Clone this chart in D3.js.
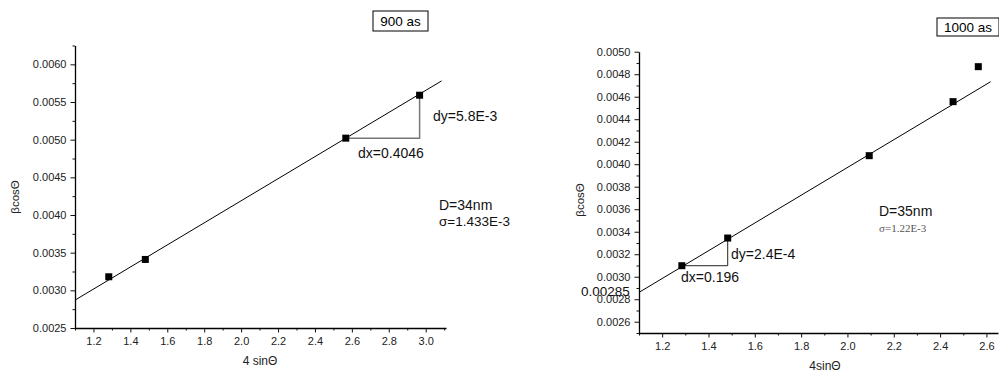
<!DOCTYPE html>
<html>
<head>
<meta charset="utf-8">
<script src="https://cdn.jsdelivr.net/npm/d3@7"></script>
<style>
  body { margin: 0; background: #fff; }
  svg { display: block; font-family: "Liberation Sans", Arial, sans-serif; }
  .tick text { font-size: 11px; fill: #222; }
</style>
</head>
<body>
<svg id="chart" width="999" height="372"></svg>
<script>
// 900 as panel
const x900 = [1.283, 1.481, 2.567, 2.967];
const y900 = [0.00318, 0.00341, 0.00502, 0.00559];
const fitX900 = [1.1, 3.086];
const fitY900 = [0.00287, 0.00578];
const xTicks900 = [1.2, 1.4, 1.6, 1.8, 2.0, 2.2, 2.4, 2.6, 2.8, 3.0];
const xMinor900 = [1.1, 1.3, 1.5, 1.7, 1.9, 2.1, 2.3, 2.5, 2.7, 2.9, 3.1];
const yTicks900 = [0.0025, 0.0030, 0.0035, 0.0040, 0.0045, 0.0050, 0.0055, 0.0060];
const yMinor900 = [0.00275, 0.00325, 0.00375, 0.00425, 0.00475, 0.00525, 0.00575, 0.00625];

// 1000 as panel
const x1000 = [1.285, 1.483, 2.094, 2.456, 2.565];
const y1000 = [0.003098, 0.003344, 0.004076, 0.004556, 0.004867];
const fitX1000 = [1.1, 2.618];
const fitY1000 = [0.002861, 0.004733];
const xTicks1000 = [1.2, 1.4, 1.6, 1.8, 2.0, 2.2, 2.4, 2.6];
const xMinor1000 = [1.1, 1.3, 1.5, 1.7, 1.9, 2.1, 2.3, 2.5];
const yTicks1000 = [0.0026, 0.0028, 0.0030, 0.0032, 0.0034, 0.0036, 0.0038, 0.0040, 0.0042, 0.0044, 0.0046, 0.0048, 0.0050];
const yMinor1000 = [0.0025, 0.0027, 0.0029, 0.0031, 0.0033, 0.0035, 0.0037, 0.0039, 0.0041, 0.0043, 0.0045, 0.0047, 0.0049];

const svg = d3.select("#chart");

function drawPanel(p) {
    const x = d3.scaleLinear().domain(p.xDomain).range(p.xRange);
    const y = d3.scaleLinear().domain(p.yDomain).range(p.yRange);
    const g = svg.append("g");

    // osie - drobne kreski
    g.append("g")
        .attr("transform", `translate(0,${p.yRange[0]})`)
        .call(d3.axisBottom(x).tickValues(p.xMinor).tickSize(2.5).tickFormat(""))
        .call(a => a.select(".domain").remove());
    g.append("g")
        .attr("transform", `translate(${p.xRange[0]},0)`)
        .call(d3.axisLeft(y).tickValues(p.yMinor).tickSize(2.5).tickFormat(""))
        .call(a => a.select(".domain").remove());

    // osie główne
    const xa = g.append("g")
        .attr("transform", `translate(0,${p.yRange[0]})`)
        .call(d3.axisBottom(x).tickValues(p.xTicks).tickSize(4.5).tickSizeOuter(0).tickPadding(5).tickFormat(d3.format(".1f")));
    const ya = g.append("g")
        .attr("transform", `translate(${p.xRange[0]},0)`)
        .call(d3.axisLeft(y).tickValues(p.yTicks).tickSize(4.5).tickSizeOuter(0).tickPadding(4).tickFormat(d3.format(".4f")));
    g.selectAll(".domain").attr("stroke-width", 1.3);
    g.selectAll(".tick line").attr("stroke", "#111");

    // linia dopasowania
    g.append("path")
        .datum(p.fitX.map((v, i) => [v, p.fitY[i]]))
        .attr("d", d3.line().x(d => x(d[0])).y(d => y(d[1])))
        .attr("fill", "none")
        .attr("stroke", "#000")
        .attr("stroke-width", 1);

    // trójkąt dx / dy
    const a = p.tri[0], b = p.tri[1];
    g.append("path")
        .attr("d", d3.line()([[x(p.xs[a]), y(p.ys[a])], [x(p.xs[b]), y(p.ys[a])], [x(p.xs[b]), y(p.ys[b])]]))
        .attr("fill", "none")
        .attr("stroke", p.triColor)
        .attr("stroke-width", p.triWidth);

    // punkty
    g.selectAll("rect.pt")
        .data(p.xs.map((v, i) => [v, p.ys[i]]))
        .join("rect")
        .attr("class", "pt")
        .attr("x", d => x(d[0]) - 3.5)
        .attr("y", d => y(d[1]) - 3.5)
        .attr("width", 7)
        .attr("height", 7)
        .attr("fill", "#000");

    // etykiety osi
    g.append("text")
        .attr("transform", `translate(${p.yLabelPos[0]},${p.yLabelPos[1]}) rotate(-90)`)
        .attr("text-anchor", "middle")
        .attr("dy", "0.35em")
        .style("font-size", "11.5px")
        .style("fill", "#222")
        .text("βcosΘ");
    g.append("text")
        .attr("x", p.xLabelPos[0])
        .attr("y", p.xLabelPos[1])
        .attr("text-anchor", "middle")
        .attr("dy", "0.35em")
        .style("font-size", "12px")
        .style("fill", "#222")
        .text(p.xLabel);

    // ramka z tytułem
    g.append("rect")
        .attr("x", p.box[0]).attr("y", p.box[1])
        .attr("width", p.box[2]).attr("height", p.box[3])
        .attr("fill", "#fff").attr("stroke", "#000").attr("stroke-width", 1);
    g.append("text")
        .attr("x", p.box[0] + p.box[2] / 2)
        .attr("y", p.box[1] + p.box[3] / 2)
        .attr("dy", "0.36em")
        .attr("text-anchor", "middle")
        .style("font-size", "13.5px")
        .text(p.title);

    // adnotacje
    p.notes.forEach(n => {
        g.append("text")
            .attr("x", n.x)
            .attr("y", n.y)
            .style("font-size", n.size || "14px")
            .style("font-family", n.font || null)
            .style("fill", n.color || "#111")
            .text(n.text);
    });
}

drawPanel({
    xs: x900, ys: y900, fitX: fitX900, fitY: fitY900,
    xTicks: xTicks900, xMinor: xMinor900, yTicks: yTicks900, yMinor: yMinor900,
    xDomain: [1.1, 3.11], xRange: [75, 446],
    yDomain: [0.0025, 0.00625], yRange: [328, 45.5],
    tri: [2, 3], triColor: "#777", triWidth: 1.5,
    xLabel: "4 sinΘ", xLabelPos: [260, 361], yLabelPos: [15, 197],
    box: [373, 11, 55, 20], title: "900 as",
    notes: [
        { x: 433, y: 121, text: "dy=5.8E-3" },
        { x: 358, y: 158, text: "dx=0.4046" },
        { x: 439, y: 210, text: "D=34nm" },
        { x: 439, y: 226, text: "σ=1.433E-3", size: "13.5px" }
    ]
});

drawPanel({
    xs: x1000, ys: y1000, fitX: fitX1000, fitY: fitY1000,
    xTicks: xTicks1000, xMinor: xMinor1000, yTicks: yTicks1000, yMinor: yMinor1000,
    xDomain: [1.1, 2.65], xRange: [639, 998],
    yDomain: [0.0025, 0.0050], yRange: [333, 51.7],
    tri: [0, 1], triColor: "#222", triWidth: 1,
    xLabel: "4sinΘ", xLabelPos: [825, 365.5], yLabelPos: [580, 200],
    box: [937, 18, 62, 18], title: "1000 as",
    notes: [
        { x: 731, y: 258.5, text: "dy=2.4E-4" },
        { x: 681, y: 282, text: "dx=0.196" },
        { x: 879, y: 215.5, text: "D=35nm" },
        { x: 879, y: 232, text: "σ=1.22E-3", size: "11px", font: "'Liberation Serif', 'Times New Roman', serif", color: "#555" },
        { x: 581, y: 295.5, text: "0.00285", size: "13.5px" }
    ]
});
</script>
</body>
</html>
